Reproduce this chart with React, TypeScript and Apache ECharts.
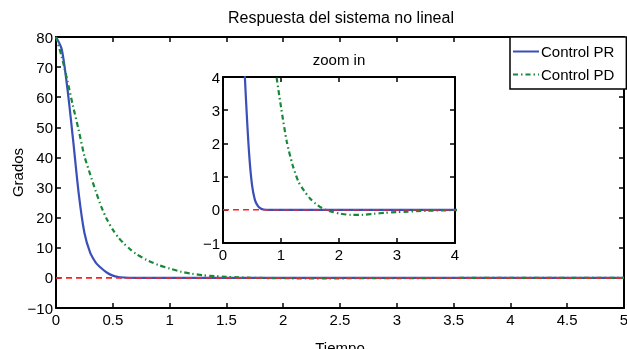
import React, { useEffect, useRef } from "react";
import * as echarts from "echarts";

const titleText = "Respuesta del sistema no lineal";
const insetTitle = "zoom in";
const xName = "Tiempo";
const yName = "Grados";
const seriesNames = ["Control PR", "Control PD"];

const time = [0, 0.05, 0.1, 0.15, 0.2, 0.25, 0.3, 0.35, 0.4, 0.45, 0.5, 0.55, 0.6, 0.65, 0.7, 0.8, 0.9, 1.0, 1.1, 1.2, 1.3, 1.4, 1.5, 1.6, 1.7, 1.8, 1.9, 2.0, 2.2, 2.4, 2.6, 2.8, 3.0, 3.5, 4.0, 4.5, 5.0];
const controlPR = [80, 76, 63, 46, 28, 15, 8.5, 5.1, 3.2, 1.7, 0.75, 0.3, 0.12, 0.04, 0.01, 0, 0, 0, 0, 0, 0, 0, 0, 0, 0, 0, 0, 0, 0, 0, 0, 0, 0, 0, 0, 0, 0];
const controlPD = [80, 73.5, 65.5, 57, 49, 40.5, 34.5, 28.8, 23.5, 19.3, 16, 13.4, 11.3, 9.6, 8.1, 5.9, 4.3, 3.1, 2.05, 1.35, 0.85, 0.57, 0.34, 0.18, 0.06, -0.02, -0.07, -0.11, -0.15, -0.15, -0.12, -0.09, -0.07, -0.03, -0.01, 0, 0];

const mainXTicks = { min: 0, max: 5, interval: 0.5 };
const mainYTicks = { min: -10, max: 80, interval: 10 };
const insetXTicks = { min: 0, max: 4, interval: 1 };
const insetYTicks = { min: -1, max: 4, interval: 1 };

const FONT = "'Liberation Sans', Arial, Helvetica, sans-serif";

export default function App() {
  const ref = useRef<HTMLDivElement>(null);
  useEffect(() => {
    if (!ref.current) return;
    const chart = echarts.init(ref.current, undefined, { renderer: "svg" });
    const pr = time.map((t, i) => [t, controlPR[i]]);
    const pd = time.map((t, i) => [t, controlPD[i]]);
    const fmt = (v: number) => String(v).replace("-", "\u2212");
    const axisBase = (grid: number, pos: string, ticks: any, labels: boolean, isX: boolean) => ({
      type: "value",
      gridIndex: grid,
      position: pos,
      min: ticks.min,
      max: ticks.max,
      interval: ticks.interval,
      nameMoveOverlap: false,
      axisLine: { show: true, onZero: false, lineStyle: { color: "#000", width: 2 } },
      axisTick: { show: true, inside: true, length: 5, lineStyle: { color: "#000", width: 1.5 } },
      axisLabel: {
        show: labels,
        color: "#000",
        fontSize: 15,
        fontFamily: FONT,
        margin: isX ? 4 : 3,
        formatter: fmt,
      },
      splitLine: { show: false },
    });
    const blue = "#3a4fb8";
    const green = "#17873a";
    const red = "#ff1f1f";
    const lineSeries = (name: string, data: any, xi: number, yi: number, color: string, type: any, width: number) => ({
      type: "line",
      name,
      data,
      xAxisIndex: xi,
      yAxisIndex: yi,
      showSymbol: false,
      symbol: "none",
      smooth: 0.25,
      clip: true,
      lineStyle: { color, width, type },
      itemStyle: { color },
      z: 3,
    });
    chart.setOption({
      animation: false,
      textStyle: { fontFamily: FONT },
      grid: [
        { left: 56, top: 37, width: 568, height: 271, show: true, borderColor: "#000", borderWidth: 0, backgroundColor: "#fff", containLabel: false, outerBoundsMode: "none" },
        { left: 223, top: 77, width: 232, height: 166, show: true, borderColor: "#000", borderWidth: 0, backgroundColor: "#fff", z: 5, containLabel: false, outerBoundsMode: "none" },
      ],
      xAxis: [
        { ...axisBase(0, "bottom", mainXTicks, true, true), name: xName, nameLocation: "middle", nameGap: 32, nameTextStyle: { color: "#000", fontSize: 15, fontFamily: FONT } },
        axisBase(0, "top", mainXTicks, false, true),
        { ...axisBase(1, "bottom", insetXTicks, true, true), z: 6 },
        { ...axisBase(1, "top", insetXTicks, false, true), z: 6 },
      ],
      yAxis: [
        { ...axisBase(0, "left", mainYTicks, true, false), name: yName, nameLocation: "middle", nameGap: 31, nameTextStyle: { color: "#000", fontSize: 15, fontFamily: FONT } },
        axisBase(0, "right", mainYTicks, false, false),
        { ...axisBase(1, "left", insetYTicks, true, false), z: 6 },
        { ...axisBase(1, "right", insetYTicks, false, false), z: 6 },
      ],
      legend: {
        data: seriesNames,
        orient: "vertical",
        left: 510,
        top: 37,
        padding: [7, 12, 7, 2],
        itemGap: 8,
        itemWidth: 26,
        itemHeight: 10,
        itemStyle: { opacity: 0 },
        backgroundColor: "#fff",
        borderColor: "#000",
        borderWidth: 1.5,
        borderRadius: 0,
        textStyle: { color: "#000", fontSize: 15, fontFamily: FONT, padding: [0, 0, 0, -3] },
        z: 10,
      },
      graphic: [
        { type: "text", x: 341, y: 17, style: { text: titleText, textAlign: "center", textVerticalAlign: "middle", fontSize: 16, fontFamily: FONT, fill: "#000" } },
        { type: "text", x: 339, y: 59, style: { text: insetTitle, textAlign: "center", textVerticalAlign: "middle", fontSize: 15, fontFamily: FONT, fill: "#000" } },
      ],
      series: [
        lineSeries(seriesNames[0], pr, 0, 0, blue, "solid", 2.2),
        lineSeries(seriesNames[1], pd, 0, 0, green, [5, 3, 1.5, 3], 2.2),
        { ...lineSeries("ref", [[mainXTicks.min, 0], [mainXTicks.max, 0]], 0, 0, red, [6, 4], 1.6), smooth: false, z: 4 },
        { ...lineSeries(seriesNames[0], pr, 2, 2, blue, "solid", 2.2), z: 7 },
        { ...lineSeries(seriesNames[1], pd, 2, 2, green, [5, 3, 1.5, 3], 2.2), z: 7 },
        { ...lineSeries("ref", [[insetXTicks.min, 0], [insetXTicks.max, 0]], 2, 2, red, [6, 4], 1.6), smooth: false, z: 8 },
      ],
    });
    return () => chart.dispose();
  }, []);
  return <div ref={ref} style={{ position: "fixed", left: 0, top: 0, width: 627, height: 349 }} />;
}
